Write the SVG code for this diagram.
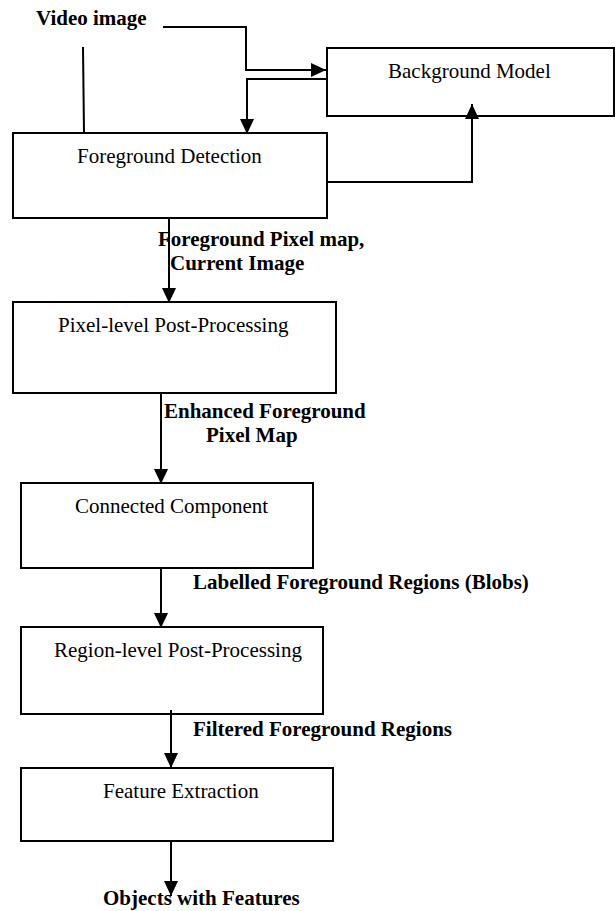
<svg xmlns="http://www.w3.org/2000/svg" width="615" height="911" viewBox="0 0 615 911">
<style>
.box{fill:#fff;stroke:#000;stroke-width:2}
.t{font-family:"Liberation Serif","Times New Roman",serif;font-size:21px;fill:#000}
.b{font-family:"Liberation Serif","Times New Roman",serif;font-size:21px;font-weight:bold;fill:#000}
.c{fill:none;stroke:#000;stroke-width:2}
</style>
<defs>
<marker id="ah" markerUnits="userSpaceOnUse" markerWidth="16" markerHeight="14" refX="15" refY="7" orient="auto">
<path d="M0,0 L15,7 L0,14 z" fill="#000"/>
</marker>
</defs>
<rect width="615" height="911" fill="#fff"/>
<g id="background-model">
<rect class="box" x="327" y="48" width="287" height="68"/>
<text class="t" x="388" y="78">Background Model</text>
</g>
<g id="foreground-detection">
<rect class="box" x="13" y="133" width="314" height="85"/>
<text class="t" x="77" y="163">Foreground Detection</text>
</g>
<g id="pixel-level">
<rect class="box" x="13" y="302" width="323" height="91"/>
<text class="t" x="58" y="332">Pixel-level Post-Processing</text>
</g>
<g id="connected-component">
<rect class="box" x="21" y="483" width="292" height="85"/>
<text class="t" x="75" y="513">Connected Component</text>
</g>
<g id="region-level">
<rect class="box" x="21" y="627" width="302" height="87"/>
<text class="t" x="54" y="657">Region-level Post-Processing</text>
</g>
<g id="feature-extraction">
<rect class="box" x="21" y="768" width="312" height="73"/>
<text class="t" x="103" y="798">Feature Extraction</text>
</g>
<g id="connectors">
<polyline class="c" points="163,27 246,27 246,70 326,70" marker-end="url(#ah)"/>
<polyline class="c" points="326,79 247,79 247,134" marker-end="url(#ah)"/>
<line class="c" x1="83" y1="47" x2="84" y2="133"/>
<polyline class="c" points="328,182 472,182 472,104" marker-end="url(#ah)"/>
<line class="c" x1="169" y1="218" x2="169" y2="303" marker-end="url(#ah)"/>
<line class="c" x1="161" y1="393" x2="161" y2="484" marker-end="url(#ah)"/>
<line class="c" x1="161" y1="568" x2="161" y2="628" marker-end="url(#ah)"/>
<line class="c" x1="171" y1="710" x2="171" y2="768" marker-end="url(#ah)"/>
<line class="c" x1="171" y1="841" x2="171" y2="896" marker-end="url(#ah)"/>
</g>
<g id="labels">
<text class="b" x="36" y="25">Video image</text>
<text class="b" x="158" y="246">Foreground Pixel map,</text>
<text class="b" x="170" y="270">Current Image</text>
<text class="b" x="164" y="418">Enhanced Foreground</text>
<text class="b" x="206" y="442">Pixel Map</text>
<text class="b" x="193" y="589">Labelled Foreground Regions (Blobs)</text>
<text class="b" x="193" y="736">Filtered Foreground Regions</text>
<text class="b" x="103" y="905">Objects with Features</text>
</g>
</svg>
